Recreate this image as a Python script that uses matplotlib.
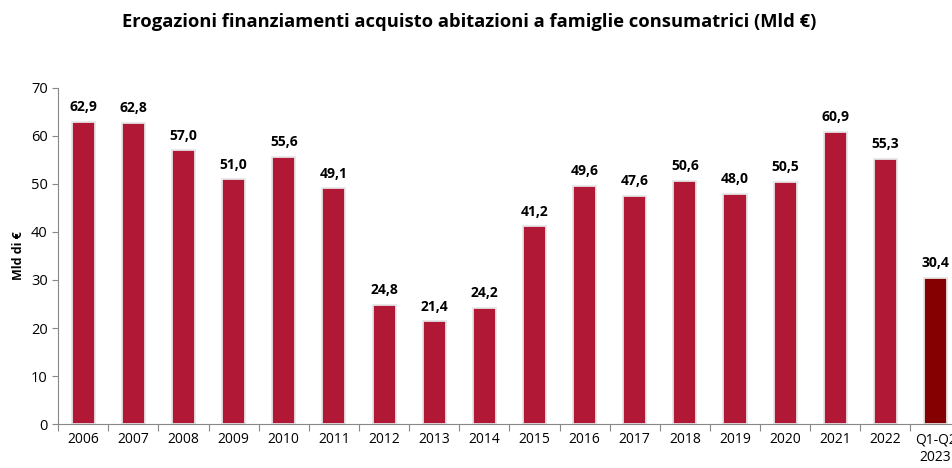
import matplotlib
matplotlib.use('Agg')
import matplotlib.pyplot as plt

categories = ['2006', '2007', '2008', '2009', '2010', '2011', '2012', '2013', '2014',
              '2015', '2016', '2017', '2018', '2019', '2020', '2021', '2022', 'Q1-Q2\n2023']
values = [62.9, 62.8, 57.0, 51.0, 55.6, 49.1, 24.8, 21.4, 24.2,
          41.2, 49.6, 47.6, 50.6, 48.0, 50.5, 60.9, 55.3, 30.4]

title = 'Erogazioni finanziamenti acquisto abitazioni a famiglie consumatrici (Mld €)'
ylabel = 'Mld di €'

plt.rcParams['font.family'] = ['Open Sans', 'DejaVu Sans']

fig = plt.figure(figsize=(9.53, 4.68), dpi=100)
# axes runs slightly past the right edge, as in the original (last label is cut)
ax = fig.add_axes([0.061, 0.094, 0.947, 0.718])

colors = ['#B01835'] * (len(values) - 1) + ['#850000']
x = range(len(categories))
ax.bar(x, values, width=0.46, color=colors, edgecolor='#e6e6e6', linewidth=1.3, zorder=2)

for i, v in zip(x, values):
    ax.text(i, v + 1.6, f'{v:.1f}'.replace('.', ','), ha='center', va='bottom',
            fontsize=10, fontweight='bold', color='black')

ax.set_xlim(-0.5, len(categories) - 0.5)
ax.set_ylim(0, 70)
ax.set_yticks(range(0, 71, 10))
ax.set_xticks([i - 0.5 for i in range(len(categories) + 1)], minor=False)
ax.set_xticklabels([])
ax.set_xticks(list(x), minor=True)
ax.set_xticklabels(categories, minor=True, fontsize=10)
ax.tick_params(axis='x', which='minor', length=0, pad=6)
ax.tick_params(axis='x', which='major', length=5, color='#888888', direction='out')
ax.tick_params(axis='y', length=4, color='#888888', labelsize=10.5)
ax.set_ylabel(ylabel, fontsize=9, fontweight='bold')

for side in ['top', 'right']:
    ax.spines[side].set_visible(False)
ax.spines['left'].set_color('#888888')
ax.spines['bottom'].set_color('#888888')

fig.text(0.492, 0.953, title, ha='center', va='center', fontsize=13.2, fontweight='bold')

fig.savefig('out.png', dpi=100)
